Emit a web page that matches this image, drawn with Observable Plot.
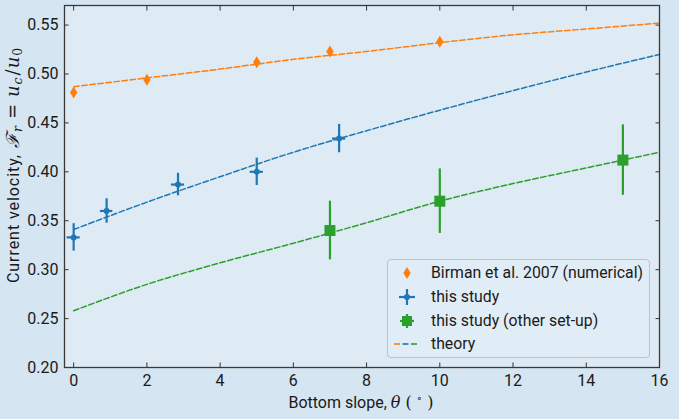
<!DOCTYPE html>
<html><head><meta charset="utf-8">
<script src="https://cdn.jsdelivr.net/npm/d3@7"></script>
<script src="https://cdn.jsdelivr.net/npm/@observablehq/plot@0.6"></script>
<style>
html,body{margin:0;padding:0;background:#d5e5f1;}
#wrap{position:relative;width:679px;height:419px;font-family:Roboto,sans-serif;}
.legend{position:absolute;left:387px;top:259px;width:263px;height:99px;box-sizing:border-box;border:1px solid #bcc3c9;border-radius:4px;background:rgba(224,236,246,0.85);font-size:15.8px;color:#1a1a1a;}
.row{position:absolute;left:0;height:24px;width:260px;}
.row svg{position:absolute;left:5px;top:0;}
.row span{position:absolute;left:43px;top:2px;line-height:20px;white-space:nowrap;}
</style></head>
<body><div id="wrap"></div>
<script>
// ---- data ----
const xTicks = [0, 2, 4, 6, 8, 10, 12, 14, 16];
const yTicks = [0.20, 0.25, 0.30, 0.35, 0.40, 0.45, 0.50, 0.55];

const birmanX = [0, 2, 5, 7, 10];
const birmanY = [0.481, 0.494, 0.512, 0.523, 0.533];

const studyX = [0, 0.9, 2.85, 5, 7.25];
const studyY = [0.333, 0.360, 0.387, 0.400, 0.434];
const studyYErr = [0.014, 0.0125, 0.0115, 0.014, 0.0145];
const studyXErr = [0.18, 0.17, 0.18, 0.18, 0.18];

const otherX = [7, 10, 15];
const otherY = [0.340, 0.370, 0.412];
const otherYErr = [0.030, 0.033, 0.036];
const otherXErr = [0.12, 0.12, 0.12];

const theoryX = [0, 2, 4, 6, 8, 10, 12, 14, 16];
const theoryBirman = [0.487, 0.496, 0.505, 0.515, 0.523, 0.532, 0.540, 0.546, 0.552];
const theoryStudy = [0.341, 0.369, 0.395, 0.420, 0.442, 0.463, 0.483, 0.502, 0.520];
const theoryOther = [0.258, 0.285, 0.307, 0.327, 0.348, 0.370, 0.388, 0.404, 0.420];

const legendLabels = ["Birman et al. 2007 (numerical)", "this study", "this study (other set-up)", "theory"];
const C = {orange: "#ff7f0e", blue: "#1f77b4", green: "#2ca02c"};

// ---- tables ----
const birman = birmanX.map((x, i) => ({x, y: birmanY[i]}));
const study = studyX.map((x, i) => ({x, y: studyY[i], ye: studyYErr[i], xe: studyXErr[i]}));
const other = otherX.map((x, i) => ({x, y: otherY[i], ye: otherYErr[i], xe: otherXErr[i]}));
const theory = (arr) => theoryX.map((x, i) => ({x, y: arr[i]}));

const thinDiamond = {
  draw(ctx, size) {
    const h = Math.sqrt(size / Math.PI), w = h * 0.62;
    ctx.moveTo(0, -h); ctx.lineTo(w, 0); ctx.lineTo(0, h); ctx.lineTo(-w, 0); ctx.closePath();
  }
};

const dash = "5.5,2.6";
const chart = Plot.plot({
  width: 679, height: 419,
  marginLeft: 64, marginRight: 20, marginTop: 5, marginBottom: 52,
  style: {background: "transparent", fontFamily: "Roboto, sans-serif", fontSize: "16px", color: "#1a1a1a"},
  x: {domain: [-0.25, 16], label: null},
  y: {domain: [0.20, 0.57], label: null},
  marks: [
    Plot.frame({fill: "#deeaf4", stroke: "none"}),
    Plot.line(theory(theoryBirman), {x: "x", y: "y", curve: "monotone-x", stroke: C.orange, strokeWidth: 1.5, strokeDasharray: dash}),
    Plot.line(theory(theoryStudy), {x: "x", y: "y", curve: "monotone-x", stroke: C.blue, strokeWidth: 1.5, strokeDasharray: dash}),
    Plot.line(theory(theoryOther), {x: "x", y: "y", curve: "monotone-x", stroke: C.green, strokeWidth: 1.5, strokeDasharray: dash}),
    Plot.dot(birman, {x: "x", y: "y", r: 6, symbol: thinDiamond, fill: C.orange, stroke: "none"}),
    Plot.ruleX(study, {x: "x", y1: d => d.y - d.ye, y2: d => d.y + d.ye, stroke: C.blue, strokeWidth: 2.2}),
    Plot.ruleY(study, {y: "y", x1: d => d.x - d.xe, x2: d => d.x + d.xe, stroke: C.blue, strokeWidth: 2.2}),
    Plot.dot(study, {x: "x", y: "y", r: 3, fill: C.blue, stroke: "none"}),
    Plot.ruleX(other, {x: "x", y1: d => d.y - d.ye, y2: d => d.y + d.ye, stroke: C.green, strokeWidth: 2.2}),
    Plot.ruleY(other, {y: "y", x1: d => d.x - d.xe, x2: d => d.x + d.xe, stroke: C.green, strokeWidth: 2.2}),
    Plot.dot(other, {x: "x", y: "y", r: 6.2, symbol: "square", fill: C.green, stroke: "none"}),
    Plot.axisX(xTicks, {anchor: "bottom", tickSize: -4.5, tickPadding: 12, label: null, tickFormat: d => String(d), stroke: "#333"}),
    Plot.axisX(xTicks, {anchor: "top", tickSize: -4.5, label: null, tickFormat: () => "", stroke: "#333"}),
    Plot.axisY(yTicks, {anchor: "left", tickSize: -4.5, tickPadding: 10.5, label: null, tickFormat: d3.format(".2f"), stroke: "#333"}),
    Plot.axisY(yTicks, {anchor: "right", tickSize: -4.5, label: null, tickFormat: () => "", stroke: "#333"}),
    Plot.frame({stroke: "#3a3a3a", strokeWidth: 1.3})
  ]
});
const wrap = document.getElementById("wrap");
wrap.appendChild(chart);

// axis titles with math parts
const svg = d3.select(chart);
const xl = svg.append("text").attr("x", 361).attr("y", 408).attr("text-anchor", "middle")
  .attr("font-family", "Roboto, sans-serif").attr("font-size", 16).attr("fill", "#1a1a1a");
xl.append("tspan").text("Bottom slope, ");
xl.append("tspan").attr("font-family", "DejaVu Serif").attr("font-style", "italic").text("θ");
xl.append("tspan").attr("font-family", "DejaVu Serif").text(" ( ");
xl.append("tspan").attr("font-family", "DejaVu Serif").attr("font-size", 11).attr("dy", -6).text("∘");
xl.append("tspan").attr("font-family", "DejaVu Serif").attr("dy", 6).text(" )");

const yl = svg.append("text").attr("transform", "translate(19,283) rotate(-90)").attr("text-anchor", "start")
  .attr("font-family", "Roboto, sans-serif").attr("font-size", 16).attr("fill", "#1a1a1a");
yl.append("tspan").attr("textLength", 128).attr("lengthAdjust", "spacing").text("Current velocity,");
const m = (t, o = {}) => {
  const s = yl.append("tspan").attr("font-family", "DejaVu Serif").attr("font-size", o.fs || 18).text(t);
  if (o.it) s.attr("font-style", "italic");
  if (o.dy) s.attr("dy", o.dy);
  if (o.dx) s.attr("dx", o.dx);
  return s;
};
m("ℱ", {it: 1, dx: 6});
m("r", {it: 1, fs: 12.5, dy: 3, dx: 1});
m("=", {dy: -3, dx: 7});
m("u", {it: 1, dx: 7});
m("c", {it: 1, fs: 12.5, dy: 3, dx: 1});
m("/", {dy: -3, dx: 2});
m("u", {it: 1, dx: 1});
m("0", {fs: 12.5, dy: 3, dx: 1});

// legend
const leg = document.createElement("div");
leg.className = "legend";
const markers = [
  `<svg width="30" height="24"><path d="M14,6 L17.7,12 L14,18 L10.3,12Z" fill="${C.orange}"/></svg>`,
  `<svg width="30" height="24"><line x1="14" y1="4" x2="14" y2="20" stroke="${C.blue}" stroke-width="2.2"/><line x1="6" y1="12" x2="22" y2="12" stroke="${C.blue}" stroke-width="2.2"/><circle cx="14" cy="12" r="3" fill="${C.blue}"/></svg>`,
  `<svg width="30" height="24"><line x1="14" y1="5" x2="14" y2="19" stroke="${C.green}" stroke-width="2.2"/><line x1="7" y1="12" x2="21" y2="12" stroke="${C.green}" stroke-width="2.2"/><rect x="9" y="7" width="10" height="10" fill="${C.green}"/></svg>`,
  `<svg width="30" height="24"><line x1="1" y1="12" x2="7" y2="12" stroke="${C.orange}" stroke-width="1.6"/><line x1="9.5" y1="12" x2="15.5" y2="12" stroke="${C.blue}" stroke-width="1.6"/><line x1="18" y1="12" x2="24" y2="12" stroke="${C.green}" stroke-width="1.6"/></svg>`
];
const centers = [14, 38, 62, 85];
legendLabels.forEach((t, i) => {
  const r = document.createElement("div");
  r.className = "row";
  r.style.top = (centers[i] - 12 - 1) + "px";
  r.innerHTML = markers[i] + `<span>${t}</span>`;
  leg.appendChild(r);
});
wrap.appendChild(leg);
</script>
</body></html>
